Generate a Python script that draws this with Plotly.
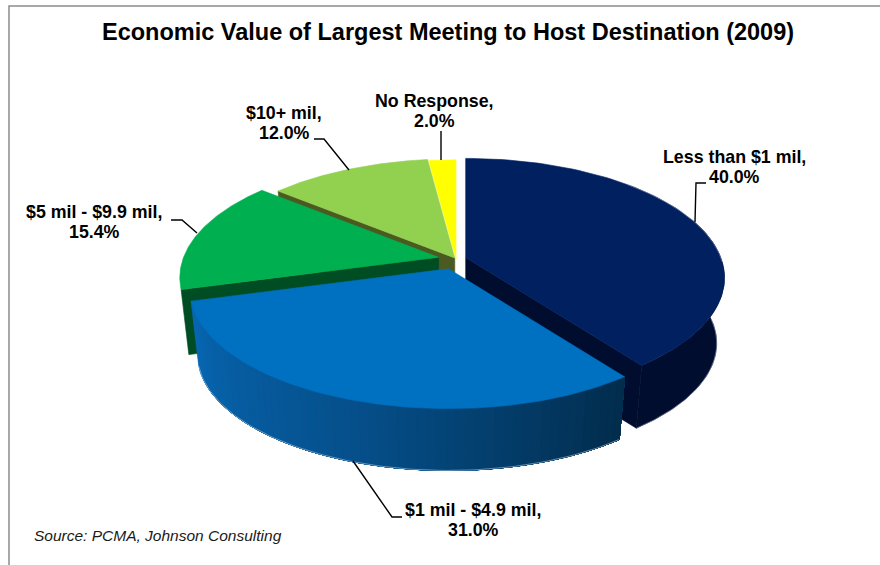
import math
import plotly.graph_objects as go

# Survey shares, clockwise from twelve o'clock
categories = ["Less than $1 mil", "$1 mil - $4.9 mil", "$5 mil - $9.9 mil", "$10+ mil", "No Response"]
shares = [40.0, 31.0, 15.4, 12.0, 2.0]
top_colors = ["#002060", "#0070C0", "#00B050", "#92D050", "#FFFF00"]
wall_colors = ["#000D2E", "#03406F", "#004D23", "#4A5A20", "#8A8A20"]
explode = [0.04, 0.09, 0.07, 0.01, 0.0]

# Projection of the tilted disc onto the page, in pixels
CX, CY = 456.0, 259.0
RX, RY = 255.0, 116.0
PERSPECTIVE = 0.17
DEPTH = 66.0
FLOOR_SCALE = 0.97

total = sum(shares)
edges = [0.0]
for s in shares:
    edges.append(edges[-1] + s / total * 360.0)


def apex(i):
    mid = math.radians((edges[i] + edges[i + 1]) / 2)
    return CX + explode[i] * RX * math.sin(mid), CY - explode[i] * RY * math.cos(mid)


def rim(i, deg, floor=False):
    t = math.radians(deg)
    ax, ay = apex(i)
    k = 1.0 / (1.0 + PERSPECTIVE * math.cos(t))
    f = FLOOR_SCALE if floor else 1.0
    return (ax + f * RX * math.sin(t) * k,
            ay - f * RY * math.cos(t) * k + (DEPTH if floor else 0.0))


def arc(i, a, b, floor=False, n=90):
    return [rim(i, a + (b - a) * j / n, floor) for j in range(n + 1)]


fig = go.Figure()


def poly(points, color):
    xs = [p[0] for p in points] + [points[0][0]]
    ys = [p[1] for p in points] + [points[0][1]]
    fig.add_trace(go.Scatter(x=xs, y=ys, mode="lines", fill="toself", fillcolor=color,
                             line=dict(color=color, width=0.6),
                             hoverinfo="skip", showlegend=False))


def stroke(points, color, width=1.0):
    fig.add_trace(go.Scatter(x=[p[0] for p in points], y=[p[1] for p in points], mode="lines",
                             line=dict(color=color, width=width),
                             hoverinfo="skip", showlegend=False))


def top(i):
    poly([apex(i)] + arc(i, edges[i], edges[i + 1]), top_colors[i])


def radial_wall(i, deg):
    ax, ay = apex(i)
    c = rim(i, deg)
    f = rim(i, deg, True)
    poly([(ax, ay), c, f, (ax, ay + DEPTH)], wall_colors[i])


def mix(c1, c2, w):
    return "rgb(%d,%d,%d)" % tuple(round(c1[n] + (c2[n] - c1[n]) * w) for n in range(3))


# Back slices first so that the nearer ones overlap them
radial_wall(3, edges[3])
top(3)
top(4)
radial_wall(2, edges[2])
top(2)

# Navy slice: cut face, outer wall, then its top
radial_wall(0, edges[1])
poly(arc(0, 70, edges[1]) + arc(0, edges[1], 70, True), wall_colors[0])
stroke(arc(0, 88, edges[1], True), "rgba(130,140,170,0.55)")
top(0)
stroke(arc(0, 45, 92), "rgba(130,140,170,0.55)")

# Blue slice: outer wall shaded in bands from the lit left end to the dark right end.
# Each band runs to the far end of the wall, so neighbours leave no seam between them.
LIGHT = (8, 104, 180)
MID = (5, 80, 140)
DARK = (2, 44, 76)
bands = 60
a0, a1 = edges[2], edges[1]
for b in range(bands):
    s0 = a0 + (a1 - a0) * b / bands
    w = (b + 0.5) / bands
    col = mix(LIGHT, MID, w * 2) if w < 0.5 else mix(MID, DARK, w * 2 - 1)
    poly(arc(1, s0, a1, n=40) + arc(1, a1, s0, True, n=40), col)
# Soft pale fringe along the lower rim
stroke(arc(1, edges[2], edges[1], True), "rgba(170,195,220,0.6)")
top(1)

# Leader lines from the labels to the slices
leaders = [
    ([706, 696, 695], [183, 183, 222]),
    ([402, 392, 353], [517, 517, 461]),
    ([171, 182, 197], [220, 220, 233]),
    ([314, 324, 349], [139, 139, 170]),
    ([441, 441], [131, 160]),
]
for lx, ly in leaders:
    fig.add_trace(go.Scatter(x=lx, y=ly, mode="lines", line=dict(color="black", width=1.4),
                             hoverinfo="skip", showlegend=False))

# Each label is two lines set closer than the default line height
label_pos = [(734.5, 157), (473, 510), (94, 212), (284, 113), (434, 101)]
LABEL_FONT = dict(family="Liberation Sans", size=17.8, color="black", weight="bold")
for name, s, (lx, ly) in zip(categories, shares, label_pos):
    fig.add_annotation(x=lx, y=ly, xref="x", yref="y", showarrow=False,
                       text=f"{name},", font=LABEL_FONT)
    fig.add_annotation(x=lx, y=ly + 20, xref="x", yref="y", showarrow=False,
                       text=f"{s:.1f}%", font=LABEL_FONT)

fig.add_annotation(x=448, y=32, xref="x", yref="y", showarrow=False,
                   text="Economic Value of Largest Meeting to Host Destination (2009)",
                   font=dict(family="Liberation Sans", size=23.5, color="black", weight="bold"))
fig.add_annotation(x=32, y=535, xref="x", yref="y", showarrow=False, xanchor="left",
                   text="Source: PCMA, Johnson Consulting",
                   font=dict(family="Liberation Sans", size=15.5, color="#1a1a1a", style="italic"))

# Chart area border
fig.add_shape(type="path", path="M 9 565 L 9 6 L 880 6", xref="x", yref="y",
              line=dict(color="#8c8c8c", width=1.5))

fig.update_layout(width=880, height=565, margin=dict(l=0, r=0, t=0, b=0),
                  paper_bgcolor="white", plot_bgcolor="white", showlegend=False,
                  xaxis=dict(range=[0, 880], visible=False, fixedrange=True),
                  yaxis=dict(range=[565, 0], visible=False, fixedrange=True))
fig.write_html("out.html", config={"displayModeBar": False})
